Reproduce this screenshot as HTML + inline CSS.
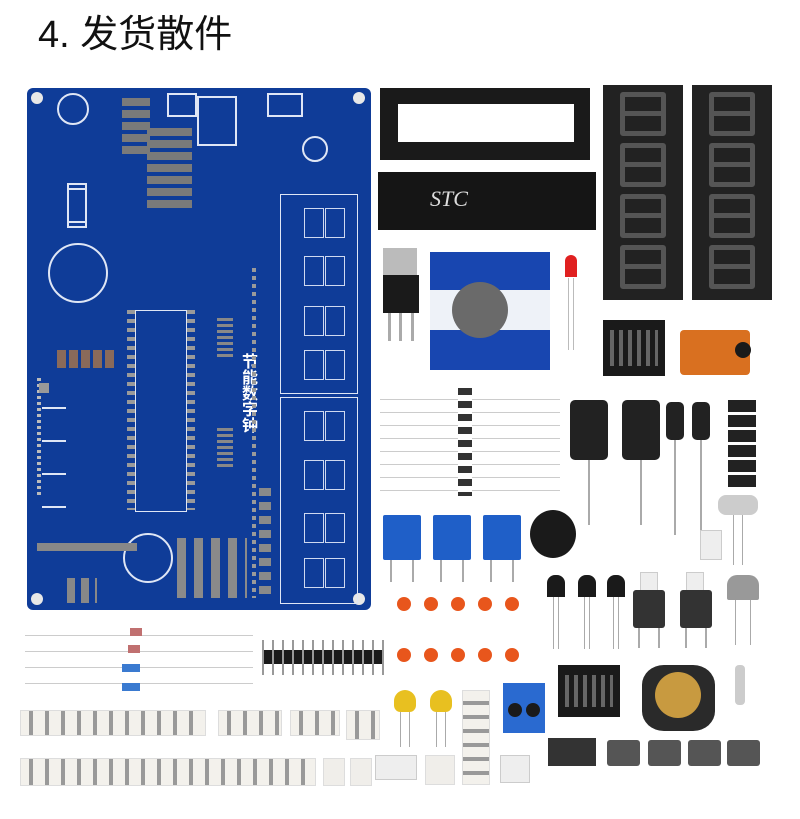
<!DOCTYPE html>
<html><head><meta charset="utf-8"><style>
body{margin:0;width:800px;height:819px;background:#fff;position:relative;overflow:hidden;font-family:"Liberation Sans","Noto Sans CJK SC",sans-serif}
div{position:absolute;box-sizing:border-box}
.pcb{left:27px;top:88px;width:344px;height:522px;background:#0f3c98;border-radius:6px}
.hole{width:12px;height:12px;border-radius:50%;background:#e8e8e8}
.fr{border:1.5px solid #dfe6f5}
.seg{width:20px;height:30px;border:1.5px solid #cfd9f0}
.blk{background:#1a1a1a}
.smd{background:#f0eeea;border:1px solid #ddd}
.cap{background:#222;border-radius:5px}
.oc{width:14px;height:14px;border-radius:50%;background:#e8561c}
.btn{background:#333;border-radius:3px}
.pot{background:#1f5fc8;border-radius:2px}
.dg{width:46px;height:44px;border:5px solid #555;border-radius:3px}
.dg:after{content:"";position:absolute;left:0;right:0;top:14px;height:5px;background:#555}
.pp{background:#8a8a8a;width:10px;height:8px}
</style></head><body>
<div style="left:38px;top:10px;font-size:38px;color:#111;line-height:50px">4. 发货散件</div>

<!-- PCB -->
<div class="pcb">
<div class="hole" style="left:4px;top:4px"></div><div class="hole" style="left:326px;top:4px"></div>
<div class="hole" style="left:4px;top:505px"></div><div class="hole" style="left:326px;top:505px"></div>
<div class="fr" style="left:253px;top:106px;width:78px;height:200px"></div>
<div class="fr" style="left:253px;top:309px;width:78px;height:207px"></div>
<div class="seg" style="left:277px;top:120px"></div><div class="seg" style="left:298px;top:120px"></div>
<div class="seg" style="left:277px;top:168px"></div><div class="seg" style="left:298px;top:168px"></div>
<div class="seg" style="left:277px;top:218px"></div><div class="seg" style="left:298px;top:218px"></div>
<div class="seg" style="left:277px;top:262px"></div><div class="seg" style="left:298px;top:262px"></div>
<div class="seg" style="left:277px;top:323px"></div><div class="seg" style="left:298px;top:323px"></div>
<div class="seg" style="left:277px;top:372px"></div><div class="seg" style="left:298px;top:372px"></div>
<div class="seg" style="left:277px;top:425px"></div><div class="seg" style="left:298px;top:425px"></div>
<div class="seg" style="left:277px;top:470px"></div><div class="seg" style="left:298px;top:470px"></div>
<div class="fr" style="left:108px;top:222px;width:52px;height:202px"></div>
<div style="left:100px;top:222px;width:8px;height:200px;background:repeating-linear-gradient(#9a9a9a 0 4px,transparent 4px 9px)"></div>
<div style="left:160px;top:222px;width:8px;height:200px;background:repeating-linear-gradient(#9a9a9a 0 4px,transparent 4px 9px)"></div>
<div style="left:21px;top:155px;width:60px;height:60px;border:2px solid #dfe6f5;border-radius:50%"></div>
<div style="left:96px;top:445px;width:50px;height:50px;border:2px solid #dfe6f5;border-radius:50%"></div>
<div style="left:30px;top:5px;width:32px;height:32px;border:2px solid #dfe6f5;border-radius:50%"></div>
<div style="left:275px;top:48px;width:26px;height:26px;border:2px solid #dfe6f5;border-radius:50%"></div>
<div style="left:210px;top:265px;color:#fff;font-size:16px;font-weight:bold;writing-mode:vertical-rl;line-height:20px">节能数字钟</div>
<div style="left:10px;top:290px;width:4px;height:120px;background:repeating-linear-gradient(#bbb 0 3px,transparent 3px 6px)"></div>
<div style="left:10px;top:455px;width:100px;height:8px;background:#888"></div>
<div style="left:225px;top:180px;width:4px;height:330px;background:repeating-linear-gradient(#9a9a9a 0 4px,transparent 4px 8px)"></div>
<div style="left:232px;top:400px;width:12px;height:110px;background:repeating-linear-gradient(#8a8a8a 0 8px,transparent 8px 14px)"></div>
<!-- pads clusters -->
<div style="left:40px;top:100px;width:20px;height:40px;border:2px solid #dfe6f5"></div>
<div style="left:40px;top:95px;width:20px;height:40px;border:2px solid #dfe6f5"></div>
<div style="left:30px;top:262px;width:58px;height:18px;background:repeating-linear-gradient(90deg,#8a6a5a 0 9px,transparent 9px 12px)"></div>
<div style="left:190px;top:230px;width:16px;height:40px;background:repeating-linear-gradient(#888 0 3px,transparent 3px 6px)"></div>
<div style="left:190px;top:340px;width:16px;height:40px;background:repeating-linear-gradient(#888 0 3px,transparent 3px 6px)"></div>
<div style="left:120px;top:40px;width:45px;height:80px;background:repeating-linear-gradient(#7a7a7a 0 8px,transparent 8px 12px)"></div>
<div style="left:95px;top:10px;width:28px;height:60px;background:repeating-linear-gradient(#7a7a7a 0 8px,transparent 8px 12px)"></div>
<div style="left:12px;top:295px;width:10px;height:10px;background:#999"></div>
<div style="left:15px;top:315px;width:24px;height:110px;background:repeating-linear-gradient(transparent 0 4px,#dfe6f5 4px 6px,transparent 6px 33px)"></div>
<div style="left:40px;top:490px;width:30px;height:25px;background:repeating-linear-gradient(90deg,#888 0 8px,transparent 8px 14px)"></div>
<div style="left:150px;top:450px;width:70px;height:60px;background:repeating-linear-gradient(90deg,#8a8a8a 0 9px,transparent 9px 17px)"></div>
<div style="left:170px;top:8px;width:40px;height:50px;border:2px solid #dfe6f5"></div>
<div style="left:240px;top:5px;width:36px;height:24px;border:2px solid #dfe6f5"></div>
<div style="left:140px;top:5px;width:30px;height:24px;border:2px solid #dfe6f5"></div>
</div>

<!-- IC socket and chip -->
<div class="blk" style="left:380px;top:88px;width:210px;height:72px"></div>
<div style="left:398px;top:104px;width:176px;height:38px;background:#fff"></div>
<div class="blk" style="left:378px;top:172px;width:218px;height:58px;background:#151515"></div>
<div style="left:430px;top:186px;color:#ddd;font-family:'Liberation Serif',serif;font-style:italic;font-size:22px">STC</div>

<!-- 7 segments -->
<div class="blk" style="left:603px;top:85px;width:80px;height:215px;background:#222"></div>
<div class="blk" style="left:692px;top:85px;width:80px;height:215px;background:#222"></div>
<div class="dg" style="left:620px;top:92px"></div><div class="dg" style="left:620px;top:143px"></div><div class="dg" style="left:620px;top:194px"></div><div class="dg" style="left:620px;top:245px"></div>
<div class="dg" style="left:709px;top:92px"></div><div class="dg" style="left:709px;top:143px"></div><div class="dg" style="left:709px;top:194px"></div><div class="dg" style="left:709px;top:245px"></div>

<!-- regulator -->
<div style="left:383px;top:248px;width:34px;height:30px;background:#bbb"></div>
<div class="blk" style="left:383px;top:275px;width:36px;height:38px"></div>
<div style="left:388px;top:313px;width:26px;height:28px;border-left:3px solid #aaa;border-right:3px solid #aaa"></div>
<div style="left:399px;top:313px;width:3px;height:28px;background:#aaa"></div>

<!-- battery pack -->
<div style="left:430px;top:252px;width:120px;height:118px;background:#1846b0"></div>
<div style="left:430px;top:290px;width:120px;height:40px;background:#eef2f8"></div>
<div style="left:452px;top:282px;width:56px;height:56px;border-radius:50%;background:#6a6a6a"></div>
<!-- led -->
<div style="left:565px;top:255px;width:12px;height:22px;background:#e02020;border-radius:6px 6px 0 0"></div>
<div style="left:568px;top:278px;width:6px;height:72px;border-left:1px solid #bbb;border-right:1px solid #bbb"></div>

<!-- diodes -->
<div style="left:380px;top:393px;width:180px;height:104px;background:repeating-linear-gradient(#fff 0 6px,#ccc 6px 7px,#fff 7px 13px)"></div>
<div style="left:458px;top:388px;width:14px;height:108px;background:repeating-linear-gradient(#333 0 7px,#fff 7px 13px)"></div>

<!-- module chips right -->
<div class="blk" style="left:603px;top:320px;width:62px;height:56px"></div>
<div style="left:610px;top:330px;width:48px;height:36px;background:repeating-linear-gradient(90deg,#666 0 4px,transparent 4px 9px)"></div>
<div style="left:680px;top:330px;width:70px;height:45px;background:#d97020;border-radius:4px"></div>
<div class="blk" style="left:735px;top:342px;width:16px;height:16px;border-radius:50%"></div>

<!-- capacitors -->
<div class="cap" style="left:570px;top:400px;width:38px;height:60px"></div>
<div class="cap" style="left:622px;top:400px;width:38px;height:60px"></div>
<div style="left:588px;top:460px;width:2px;height:65px;background:#aaa"></div>
<div style="left:640px;top:460px;width:2px;height:65px;background:#aaa"></div>
<div class="cap" style="left:666px;top:402px;width:18px;height:38px"></div>
<div class="cap" style="left:692px;top:402px;width:18px;height:38px"></div>
<div style="left:674px;top:440px;width:2px;height:95px;background:#aaa"></div>
<div style="left:700px;top:440px;width:2px;height:95px;background:#aaa"></div>
<div style="left:728px;top:400px;width:28px;height:90px;background:repeating-linear-gradient(#222 0 12px,#fff 12px 15px)"></div>
<div style="left:718px;top:495px;width:40px;height:20px;background:#ccc;border-radius:8px"></div>
<div style="left:733px;top:515px;width:10px;height:50px;border-left:1px solid #aaa;border-right:1px solid #aaa"></div>

<!-- pots -->
<div class="pot" style="left:383px;top:515px;width:38px;height:45px"></div>
<div class="pot" style="left:433px;top:515px;width:38px;height:45px"></div>
<div class="pot" style="left:483px;top:515px;width:38px;height:45px"></div>
<div style="left:390px;top:560px;width:24px;height:22px;border-left:2px solid #aaa;border-right:2px solid #aaa"></div>
<div style="left:440px;top:560px;width:24px;height:22px;border-left:2px solid #aaa;border-right:2px solid #aaa"></div>
<div style="left:490px;top:560px;width:24px;height:22px;border-left:2px solid #aaa;border-right:2px solid #aaa"></div>
<div class="blk" style="left:530px;top:510px;width:46px;height:48px;border-radius:50%"></div>
<div style="left:700px;top:530px;width:22px;height:30px;background:#eee;border:1px solid #ccc"></div>

<!-- transistors & buttons -->
<div class="blk" style="left:547px;top:575px;width:18px;height:22px;border-radius:8px 8px 0 0"></div>
<div class="blk" style="left:578px;top:575px;width:18px;height:22px;border-radius:8px 8px 0 0"></div>
<div class="blk" style="left:607px;top:575px;width:18px;height:22px;border-radius:8px 8px 0 0"></div>
<div style="left:553px;top:597px;width:6px;height:52px;border-left:1px solid #aaa;border-right:1px solid #aaa"></div>
<div style="left:584px;top:597px;width:6px;height:52px;border-left:1px solid #aaa;border-right:1px solid #aaa"></div>
<div style="left:613px;top:597px;width:6px;height:52px;border-left:1px solid #aaa;border-right:1px solid #aaa"></div>
<div style="left:640px;top:572px;width:18px;height:20px;background:#eee;border:1px solid #ccc"></div>
<div style="left:686px;top:572px;width:18px;height:20px;background:#eee;border:1px solid #ccc"></div>
<div class="btn" style="left:633px;top:590px;width:32px;height:38px"></div>
<div class="btn" style="left:680px;top:590px;width:32px;height:38px"></div>
<div style="left:638px;top:628px;width:22px;height:20px;border-left:2px solid #aaa;border-right:2px solid #aaa"></div>
<div style="left:685px;top:628px;width:22px;height:20px;border-left:2px solid #aaa;border-right:2px solid #aaa"></div>
<div style="left:727px;top:575px;width:32px;height:25px;background:#999;border-radius:10px 10px 2px 2px"></div>
<div style="left:735px;top:600px;width:16px;height:45px;border-left:1px solid #aaa;border-right:1px solid #aaa"></div>

<!-- orange caps -->
<div class="oc" style="left:397px;top:597px"></div><div class="oc" style="left:424px;top:597px"></div><div class="oc" style="left:451px;top:597px"></div><div class="oc" style="left:478px;top:597px"></div><div class="oc" style="left:505px;top:597px"></div>
<div class="oc" style="left:397px;top:648px"></div><div class="oc" style="left:424px;top:648px"></div><div class="oc" style="left:451px;top:648px"></div><div class="oc" style="left:478px;top:648px"></div><div class="oc" style="left:505px;top:648px"></div>

<!-- left resistors & header -->
<div style="left:25px;top:632px;width:228px;height:60px;background:repeating-linear-gradient(#fff 0 3px,#ccc 3px 4px,#fff 4px 16px)"></div>
<div style="left:130px;top:628px;width:12px;height:8px;background:#c07070"></div>
<div style="left:128px;top:645px;width:12px;height:8px;background:#c07070"></div>
<div style="left:122px;top:664px;width:18px;height:8px;background:#3a7ad0"></div>
<div style="left:122px;top:683px;width:18px;height:8px;background:#3a7ad0"></div>
<div class="blk" style="left:262px;top:650px;width:122px;height:14px"></div>
<div style="left:262px;top:640px;width:122px;height:35px;background:repeating-linear-gradient(90deg,#999 0 2px,transparent 2px 10px)"></div>

<!-- smd strips -->
<div class="smd" style="left:20px;top:710px;width:186px;height:26px;background:repeating-linear-gradient(90deg,#f3f1ec 0 8px,#999 8px 12px,#f3f1ec 12px 16px)"></div>
<div class="smd" style="left:218px;top:710px;width:64px;height:26px;background:repeating-linear-gradient(90deg,#f3f1ec 0 8px,#999 8px 12px,#f3f1ec 12px 16px)"></div>
<div class="smd" style="left:290px;top:710px;width:50px;height:26px;background:repeating-linear-gradient(90deg,#f3f1ec 0 8px,#999 8px 12px,#f3f1ec 12px 16px)"></div>
<div class="smd" style="left:346px;top:710px;width:34px;height:30px;background:repeating-linear-gradient(90deg,#f3f1ec 0 8px,#999 8px 12px,#f3f1ec 12px 16px)"></div>
<div class="smd" style="left:20px;top:758px;width:296px;height:28px;background:repeating-linear-gradient(90deg,#f3f1ec 0 8px,#999 8px 12px,#f3f1ec 12px 16px)"></div>
<div class="smd" style="left:323px;top:758px;width:22px;height:28px"></div>
<div class="smd" style="left:350px;top:758px;width:22px;height:28px"></div>
<div style="left:375px;top:755px;width:42px;height:25px;background:#eee;border:1px solid #ccc"></div>
<div class="smd" style="left:425px;top:755px;width:30px;height:30px"></div>
<div class="smd" style="left:462px;top:690px;width:28px;height:95px;background:repeating-linear-gradient(#f3f1ec 0 10px,#999 10px 14px)"></div>
<div style="left:500px;top:755px;width:30px;height:28px;background:#eee;border:1px solid #ccc"></div>

<!-- yellow caps -->
<div style="left:394px;top:690px;width:22px;height:22px;background:#e8c020;border-radius:50% 50% 30% 30%"></div>
<div style="left:430px;top:690px;width:22px;height:22px;background:#e8c020;border-radius:50% 50% 30% 30%"></div>
<div style="left:400px;top:712px;width:10px;height:35px;border-left:1px solid #aaa;border-right:1px solid #aaa"></div>
<div style="left:436px;top:712px;width:10px;height:35px;border-left:1px solid #aaa;border-right:1px solid #aaa"></div>
<!-- terminal -->
<div style="left:503px;top:683px;width:42px;height:50px;background:#2a6ad0"></div>
<div class="blk" style="left:508px;top:703px;width:14px;height:14px;border-radius:50%"></div>
<div class="blk" style="left:526px;top:703px;width:14px;height:14px;border-radius:50%"></div>

<!-- bottom right chips -->
<div class="blk" style="left:558px;top:665px;width:62px;height:52px"></div>
<div style="left:565px;top:675px;width:48px;height:32px;background:repeating-linear-gradient(90deg,#666 0 4px,transparent 4px 9px)"></div>
<div style="left:642px;top:665px;width:73px;height:66px;background:#2a2a2a;border-radius:30%"></div>
<div style="left:655px;top:672px;width:46px;height:46px;background:#c89a40;border-radius:50%"></div>
<div style="left:735px;top:665px;width:10px;height:40px;background:#ccc;border-radius:4px"></div>
<div class="blk" style="left:548px;top:738px;width:48px;height:28px;background:#333"></div>
<div class="btn" style="left:607px;top:740px;width:33px;height:26px;background:#555"></div>
<div class="btn" style="left:648px;top:740px;width:33px;height:26px;background:#555"></div>
<div class="btn" style="left:688px;top:740px;width:33px;height:26px;background:#555"></div>
<div class="btn" style="left:727px;top:740px;width:33px;height:26px;background:#555"></div>
</body></html>
